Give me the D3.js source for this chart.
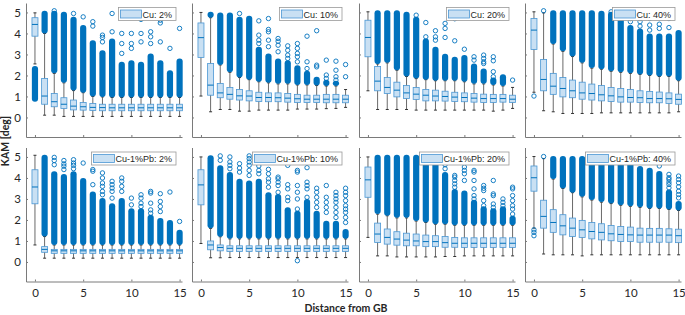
<!DOCTYPE html>
<html>
<head>
<meta charset="utf-8">
<script src="https://cdn.jsdelivr.net/npm/d3@7"></script>
<style>
  body { margin: 0; background: #fff; }
  svg { display: block; }
</style>
</head>
<body>
<div id="chart"></div>
<script>
// panel titles (legend text), row-major
const titles = ['Cu: 2%', 'Cu: 10%', 'Cu: 20%', 'Cu: 40%',
  'Cu-1%Pb: 2%', 'Cu-1%Pb: 10%', 'Cu-1%Pb: 20%', 'Cu-1%Pb: 40%']

const distance = d3.range(0, 16)
const xTicks = [0, 5, 10, 15]
const yTicks = [0, 1, 2, 3, 4, 5]

// box statistics, one array of 16 per panel
const q3 = [
  [4.75,1.86,1.14,0.94,0.83,0.71,0.67,0.63,0.63,0.63,0.63,0.63,0.63,0.63,0.63,0.63],
  [4.5,2.57,1.62,1.43,1.33,1.27,1.2,1.17,1.17,1.14,1.1,1.06,1.06,1.1,1.1,1.06],
  [4.63,2.43,1.9,1.68,1.52,1.43,1.33,1.3,1.25,1.2,1.17,1.14,1.11,1.1,1.1,1.06],
  [4.71,2.76,2.1,1.9,1.78,1.68,1.59,1.52,1.43,1.38,1.33,1.27,1.24,1.21,1.17,1.11],
  [4.39,0.73,0.6,0.6,0.6,0.6,0.6,0.6,0.6,0.6,0.6,0.6,0.6,0.6,0.6,0.6],
  [4.39,1.0,0.81,0.77,0.77,0.77,0.77,0.77,0.77,0.77,0.77,0.77,0.77,0.77,0.77,0.77],
  [4.52,1.85,1.57,1.44,1.37,1.33,1.28,1.25,1.21,1.17,1.15,1.15,1.15,1.15,1.15,1.15],
  [4.57,2.94,2.49,2.25,2.09,1.98,1.88,1.82,1.74,1.69,1.66,1.61,1.6,1.6,1.58,1.56]
]
const median = [
  [4.43,1.02,0.75,0.63,0.54,0.51,0.48,0.47,0.46,0.46,0.46,0.46,0.46,0.46,0.46,0.46],
  [3.8,1.54,1.17,1.1,1.03,1.02,0.95,0.95,0.94,0.92,0.89,0.87,0.87,0.87,0.87,0.87],
  [3.81,1.73,1.43,1.3,1.17,1.11,1.06,1.02,1.0,0.97,0.95,0.92,0.9,0.9,0.9,0.87],
  [4.16,1.81,1.49,1.38,1.27,1.17,1.14,1.08,1.03,0.98,0.95,0.94,0.9,0.9,0.89,0.86],
  [3.57,0.6,0.53,0.53,0.53,0.53,0.53,0.53,0.53,0.53,0.53,0.53,0.53,0.53,0.53,0.53],
  [3.67,0.81,0.69,0.65,0.65,0.65,0.65,0.65,0.65,0.65,0.65,0.65,0.65,0.65,0.65,0.65],
  [3.91,1.33,1.17,1.09,1.04,1.0,0.97,0.97,0.92,0.89,0.89,0.89,0.89,0.89,0.89,0.89],
  [4.01,2.17,1.88,1.72,1.61,1.53,1.45,1.41,1.34,1.31,1.29,1.28,1.28,1.28,1.28,1.25]
]
const q1 = [
  [3.87,0.63,0.51,0.43,0.36,0.35,0.33,0.32,0.32,0.32,0.32,0.32,0.32,0.32,0.32,0.32],
  [2.86,1.06,0.94,0.87,0.83,0.79,0.76,0.75,0.75,0.73,0.71,0.71,0.71,0.7,0.7,0.7],
  [2.89,1.27,1.14,0.98,0.9,0.86,0.79,0.79,0.78,0.76,0.75,0.73,0.71,0.71,0.73,0.71],
  [3.24,1.27,1.1,0.98,0.94,0.87,0.83,0.79,0.76,0.73,0.73,0.71,0.7,0.7,0.67,0.63],
  [2.77,0.46,0.41,0.41,0.41,0.41,0.41,0.41,0.41,0.41,0.41,0.41,0.41,0.41,0.41,0.41],
  [2.72,0.58,0.53,0.5,0.5,0.5,0.5,0.5,0.5,0.5,0.5,0.5,0.5,0.5,0.5,0.5],
  [3.08,0.93,0.85,0.8,0.77,0.77,0.73,0.73,0.7,0.7,0.69,0.69,0.69,0.69,0.69,0.69],
  [3.37,1.61,1.41,1.29,1.21,1.17,1.1,1.05,1.01,0.97,0.97,0.94,0.94,0.94,0.94,0.92]
]
const whiskerLow = [
  [2.55,0.11,0.11,0.05,0.05,0.05,0.05,0.05,0.05,0.05,0.05,0.05,0.05,0.05,0.05,0.05],
  [1.02,0.27,0.38,0.38,0.3,0.3,0.35,0.35,0.35,0.35,0.4,0.4,0.4,0.42,0.43,0.48],
  [1.27,0.38,0.38,0.38,0.38,0.35,0.35,0.35,0.35,0.35,0.35,0.35,0.35,0.3,0.35,0.43],
  [1.2,0.32,0.27,0.19,0.19,0.19,0.19,0.22,0.22,0.22,0.22,0.22,0.22,0.22,0.22,0.27],
  [0.81,0.18,0.18,0.18,0.18,0.18,0.18,0.18,0.18,0.18,0.18,0.18,0.18,0.18,0.18,0.18],
  [0.88,0.2,0.2,0.21,0.21,0.21,0.21,0.21,0.21,0.21,0.21,0.21,0.21,0.21,0.21,0.21],
  [1.17,0.29,0.29,0.24,0.24,0.24,0.24,0.24,0.26,0.26,0.29,0.29,0.29,0.29,0.29,0.29],
  [1.61,0.38,0.34,0.34,0.34,0.29,0.34,0.34,0.34,0.34,0.34,0.34,0.34,0.34,0.34,0.34]
]
const whiskerHigh = [
  [4.98,4.0,2.1,1.65,1.28,1.18,1.0,0.98,0.95,0.95,0.95,0.95,0.95,0.95,0.95,0.95],
  [5.0,4.75,2.5,2.15,1.9,1.8,1.7,1.65,1.6,1.6,1.55,1.55,1.52,1.5,1.5,1.33],
  [5.03,2.55,2.6,2.25,1.95,1.85,1.8,1.75,1.75,1.75,1.7,1.6,1.6,1.55,1.5,1.43],
  [5.03,4.98,3.5,3.15,2.9,2.6,2.35,2.3,2.2,2.15,2.1,2.05,2.0,1.95,1.95,1.75],
  [5.08,1.21,0.81,0.81,0.81,0.81,0.81,0.81,0.81,0.81,0.81,0.81,0.81,0.81,0.81,0.81],
  [5.0,1.6,1.2,1.1,1.1,1.1,1.1,1.1,1.1,1.1,1.1,1.1,1.1,1.1,1.1,1.1],
  [5.0,2.28,2.2,2.1,2.1,1.95,1.88,1.8,1.8,1.75,1.75,1.75,1.75,1.75,1.75,1.75],
  [5.02,4.92,3.95,3.5,3.3,3.1,2.95,2.85,2.78,2.7,2.65,2.6,2.55,2.55,2.5,2.45]
]
// top of the dense outlier band above each upper whisker (null = none)
const outlierTop = [
  [null,5.08,5.08,5.03,4.79,4.4,3.68,3.2,3.76,2.65,2.73,2.65,3.05,2.73,2.25,2.81],
  [null,5.03,5.0,5.0,4.8,4.84,3.37,3.05,2.81,2.73,2.49,2.22,1.94,1.8,1.75,null],
  [null,5.1,5.1,5.1,5.03,4.79,3.76,3.37,3.03,2.89,2.97,2.57,2.33,1.9,2.06,null],
  [null,null,5.1,5.1,5.1,5.1,5.1,5.08,5.03,4.8,4.4,4.24,4.0,4.0,4.0,4.16],
  [null,5.1,4.32,4.19,4.32,4.0,3.36,3.04,2.8,3.04,2.56,2.56,2.25,2.09,2.0,1.53],
  [null,5.08,4.6,4.28,3.96,3.88,3.96,3.32,3.24,2.6,2.44,3.0,2.44,1.96,1.96,1.57],
  [null,5.1,5.1,5.1,5.1,5.1,4.73,4.73,4.28,3.48,3.4,2.96,2.65,2.56,2.65,2.2],
  [null,null,5.05,5.05,5.05,5.05,4.97,4.97,4.89,4.73,4.73,4.57,4.49,4.33,3.45,2.9]
]
// dense band of low outliers under the first box: [bottom, top] or null
const lowBand = [[0.75, 2.45], null, null, null, null, null, null, null]

// single outlier circles
const outliers = [
  [[],[],[5.08],[],[4.95],[4.79],[4.56,4.35],[3.92,3.81,3.6],[4.95,4.08],[4.0,3.52,3.05],
   [4.0,3.52,3.29],[4.67,4.0,3.6],[4.08,3.84,3.52],[4.63,4.5,3.6],[3.29],[4.24]],
  [[],[],[],[],[4.95],[],[4.6,3.92,3.68,3.52],[4.71,4.19,4.08,3.68,3.37],[3.76,3.63,3.44,3.13],
   [3.41,3.2,2.97,2.81],[3.52,3.29,3.05,2.89,2.65],[3.87,2.65,2.33],[4.13,2.49,2.41],
   [2.73,2.02,1.86],[2.68,2.25,1.94,1.78],[2.52,1.94]],
  [[],[],[],[],[],[4.87],[4.52,3.84],[4.13,3.84,3.68],[4.48,4.24,3.81],[4.7,3.65],[3.25],
   [2.89,2.73],[2.97,2.81,2.65,2.57],[2.89,2.7,2.18,1.94],[],[1.78]],
  [[1.02],[5.08],[],[],[],[],[],[],[5.03],[5.03,4.92],[4.71,4.56],[4.71,4.56,4.35],
   [4.71,4.4,4.16],[4.76,4.44,4.24],[4.71,4.28],[]],
  [[],[],[4.98,4.83,4.63],[4.83,4.67,4.56,4.4],[4.87,4.71,4.6,4.44],[4.71],[4.4,4.32,3.68],
   [4.24,4.0,3.76,3.6,3.36,3.2],[3.84,3.68,3.52,3.36,3.04],[4.0,3.84,3.6,3.36],[3.04,2.72],
   [3.2,3.04,2.8,2.64],[3.36,3.28,2.8,2.48,2.32],[3.25,2.88,2.64,2.4],[3.33],[1.93]],
  [[],[],[5.05,4.84],[5.0,4.76,4.6,4.44],[4.68,4.47,4.28],[5.05,4.92,4.76,4.6,4.36,4.12],
   [4.57,4.36,4.2],[4.41,4.2,3.96,3.8,3.56],[4.04,3.96,3.8,3.64,3.32],[4.6,3.68,3.48,3.08,2.92],
   [4.36,4.28,3.64,3.32,3.0,2.52,0.06],[4.49,3.8,3.64,3.48,3.08],[3.51,3.32,3.08,2.84,2.6],
   [3.64,3.08,2.84,2.6,2.36],[3.32,3.16,3.0,2.84,2.6,2.36,2.12],
   [3.51,3.32,3.16,2.92,2.68,2.52,2.36,2.12,1.88]],
  [[],[],[],[],[],[],[5.0],[5.0,4.92,4.76],[5.0,4.92,4.79,4.63,4.44],[4.12,4.04,3.88,3.72,3.56],
   [4.52,4.36,4.2,3.88],[4.36,4.28,3.88,3.48,3.16,3.0],[3.64,3.51,3.4,2.92,2.68],
   [3.88,3.24,3.16,2.76,2.6],[3.0,2.84,2.68],[3.56,3.48,3.16,2.92,2.68,2.52,2.28]],
  [[1.53,1.41,1.25],[5.02],[],[],[],[],[],[],[],[],[],[],[],[4.57],
   [4.17,4.01,3.93,3.8,3.69,3.53],[4.09,3.93,3.77,3.58,3.37,3.21,3.05]]
]

const width = 685
const height = 315
const panelLeft = [26, 192, 359, 525]
const rowTop = [3, 147.5]
const rowBottom = [137, 281.5]
const panelWidth = 156

const blue = '#0072bd'
const axisColor = '#7a7a7a'
const boxW = 6

const svg = d3.select('#chart')
  .append('svg')
  .attr('width', width)
  .attr('height', height)
  .attr('font-family', 'Lato, "Liberation Sans", sans-serif')

titles.forEach((title, p) => {
  const row = Math.floor(p / 4)
  const col = p % 4
  const L = panelLeft[col]

  const x = d3.scaleLinear().domain([-0.93, 15.25]).range([L, L + panelWidth])
  const y = d3.scaleLinear().domain([-0.93, 5.45]).range([rowBottom[row], rowTop[row]])

  const g = svg.append('g')

  // axes, ticks pointing inward
  const yAxis = d3.axisLeft(y).tickValues(yTicks).tickSize(-2).tickSizeOuter(0).tickPadding(5)
    .tickFormat(col > 0 ? '' : d3.format('d'))
  const yg = g.append('g').attr('transform', `translate(${L},0)`).call(yAxis)

  const xAxis = d3.axisBottom(x).tickValues(xTicks).tickSize(-2).tickSizeOuter(0).tickPadding(7)
    .tickFormat(row === 0 ? '' : d3.format('d'))
  const xg = g.append('g').attr('transform', `translate(0,${rowBottom[row]})`).call(xAxis)

  ;[yg, xg].forEach(a => {
    a.selectAll('path, line').attr('stroke', axisColor)
    a.selectAll('text').attr('fill', '#262626').attr('font-size', 11.5)
      .attr('font-family', 'Lato, sans-serif')
  })

  // whiskers
  g.selectAll('.whisker')
    .data(distance)
    .enter().append('line')
    .attr('x1', d => x(d)).attr('x2', d => x(d))
    .attr('y1', d => y(whiskerLow[p][d]))
    .attr('y2', d => y(whiskerHigh[p][d]))
    .attr('stroke', '#6a6a6a')
    .attr('stroke-width', 1)

  // whisker caps
  ;[whiskerLow, whiskerHigh].forEach(arr => {
    g.selectAll(null)
      .data(distance)
      .enter().append('line')
      .attr('x1', d => x(d) - 1.5).attr('x2', d => x(d) + 1.5)
      .attr('y1', d => y(arr[p][d])).attr('y2', d => y(arr[p][d]))
      .attr('stroke', '#333')
      .attr('stroke-width', 1)
  })

  // boxes
  g.selectAll('.box')
    .data(distance)
    .enter().append('rect')
    .attr('x', d => x(d) - boxW / 2)
    .attr('width', boxW)
    .attr('y', d => y(q3[p][d]))
    .attr('height', d => y(q1[p][d]) - y(q3[p][d]))
    .attr('fill', '#c9e0f3')
    .attr('stroke', '#4b97d4')
    .attr('stroke-width', 0.8)

  g.selectAll('.median')
    .data(distance)
    .enter().append('line')
    .attr('x1', d => x(d) - boxW / 2).attr('x2', d => x(d) + boxW / 2)
    .attr('y1', d => y(median[p][d])).attr('y2', d => y(median[p][d]))
    .attr('stroke', blue)
    .attr('stroke-width', 1)

  // dense outlier bands (overlapping markers)
  g.selectAll('.band')
    .data(distance.filter(d => outlierTop[p][d] !== null))
    .enter().append('rect')
    .attr('x', d => x(d) - 3.1)
    .attr('width', 6.2)
    .attr('y', d => y(outlierTop[p][d]))
    .attr('height', d => y(whiskerHigh[p][d]) - y(outlierTop[p][d]))
    .attr('rx', 3)
    .attr('fill', blue)

  if (lowBand[p]) {
    g.append('rect')
      .attr('x', x(0) - 3.1)
      .attr('width', 6.2)
      .attr('y', y(lowBand[p][1]))
      .attr('height', y(lowBand[p][0]) - y(lowBand[p][1]))
      .attr('rx', 3)
      .attr('fill', blue)
  }

  // single outliers
  const pts = []
  outliers[p].forEach((vals, d) => vals.forEach(v => pts.push({ d, v })))
  g.selectAll('.out')
    .data(pts)
    .enter().append('circle')
    .attr('cx', o => x(o.d))
    .attr('cy', o => y(o.v))
    .attr('r', 2.2)
    .attr('fill', 'none')
    .attr('stroke', blue)
    .attr('stroke-width', 0.9)

  // legend
  const lg = g.append('g')
  const lt = lg.append('text')
    .attr('font-family', '"Liberation Sans", Arial, sans-serif')
    .attr('font-size', 9)
    .attr('fill', '#262626')
    .text(title)
  const tw = lt.node().getComputedTextLength()
  const lw = 25 + tw + 3
  const lx = L + panelWidth - 6 - lw
  const ly = rowTop[row] + 4.5
  lg.insert('rect', 'text')
    .attr('x', lx).attr('y', ly)
    .attr('width', lw).attr('height', 13)
    .attr('fill', '#fff')
    .attr('stroke', '#9a9a9a')
    .attr('stroke-width', 0.8)
  lg.insert('rect', 'text')
    .attr('x', lx + 2).attr('y', ly + 2.5)
    .attr('width', 21).attr('height', 8)
    .attr('fill', '#c9e0f3')
    .attr('stroke', '#4b97d4')
    .attr('stroke-width', 0.8)
  lt.attr('x', lx + 24).attr('y', ly + 10)
})

svg.append('text')
  .attr('transform', 'translate(9,141) rotate(-90)')
  .attr('text-anchor', 'middle')
  .attr('font-weight', 'bold')
  .attr('font-size', 10.5)
  .attr('fill', '#262626')
  .text('KAM [deg]')

svg.append('text')
  .attr('x', 346)
  .attr('y', 312)
  .attr('text-anchor', 'middle')
  .attr('font-weight', 'bold')
  .attr('font-size', 10.5)
  .attr('fill', '#262626')
  .text('Distance from GB')
</script>
</body>
</html>
